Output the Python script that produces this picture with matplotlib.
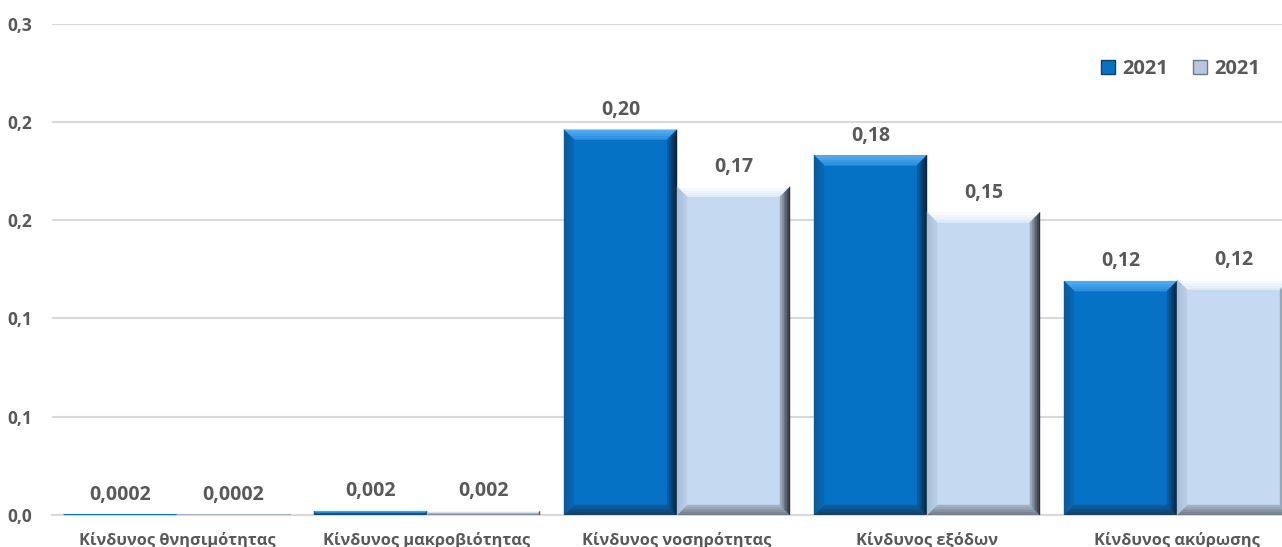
import matplotlib.pyplot as plt
import numpy as np
from matplotlib.patches import Polygon, Rectangle
from matplotlib.lines import Line2D
from matplotlib.colors import to_rgb

# data
categories = ["Κίνδυνος θνησιμότητας", "Κίνδυνος μακροβιότητας", "Κίνδυνος νοσηρότητας",
              "Κίνδυνος εξόδων", "Κίνδυνος ακύρωσης"]
series_names = ["2021", "2021"]
values_a = [0.0002, 0.002, 0.196, 0.183, 0.119]
values_b = [0.0002, 0.002, 0.167, 0.154, 0.1197]
labels_a = ["0,0002", "0,002", "0,20", "0,18", "0,12"]
labels_b = ["0,0002", "0,002", "0,17", "0,15", "0,12"]
yticks = [0, 0.05, 0.10, 0.15, 0.20, 0.25]
ytick_labels = ["0,0", "0,1", "0,1", "0,2", "0,2", "0,3"]

plt.rcParams['font.family'] = ['Open Sans', 'DejaVu Sans']
txt = '#595959'

W, H = 1282, 547
fig = plt.figure(figsize=(W / 100, H / 100), dpi=100)
# plot area runs off the right edge like in the original
ax = fig.add_axes([52 / W, 32 / H, 1250 / W, 491.4 / H])

x = np.arange(len(categories))
bw = 0.452
ax.set_xlim(-0.5, len(categories) - 0.5)
ax.set_ylim(0, 0.25)

dark = '#0572C6'
light = '#C5D9F0'
# face, top, bottom, left, right edge colours
bevel_cols = {
    'a': (dark, '#55B0F5', '#123F66', '#0A5A9A', '#08233D'),
    'b': (light, '#FFFFFF', '#6F7A88', '#A9BDD5', '#2B2F35'),
}

px_x = 1250 / len(categories)
px_y = 491.4 / 0.25
bev = 10
steps = 6


def mix(c1, c2, t):
    a, b = np.array(to_rgb(c1)), np.array(to_rgb(c2))
    return tuple(a + (b - a) * t)


def bevel_bar(xc, h, key):
    face, ctop, cbot, cleft, cright = bevel_cols[key]
    x0, x1 = xc - bw / 2, xc + bw / 2
    ax.add_patch(Rectangle((x0, 0), bw, h, facecolor=face, edgecolor='none', zorder=3))
    hp = h * px_y
    b = min(bev, hp / 2)
    bx, by = b / px_x, b / px_y
    for j in range(steps):
        o0, o1 = j / steps, (j + 1) / steps
        t = j / steps
        ax0, ax1 = x0 + bx * o0, x1 - bx * o0
        ay0, ay1 = by * o0, h - by * o0
        ix0, ix1 = x0 + bx * o1, x1 - bx * o1
        iy0, iy1 = by * o1, h - by * o1
        polys = [
            ([(ax0, ay1), (ax1, ay1), (ix1, iy1), (ix0, iy1)], mix(ctop, face, t * 0.6)),
            ([(ax0, ay0), (ax1, ay0), (ix1, iy0), (ix0, iy0)], mix(cbot, face, t * 0.7)),
            ([(ax0, ay0), (ax0, ay1), (ix0, iy1), (ix0, iy0)], mix(cleft, face, t * 0.7)),
            ([(ax1, ay0), (ax1, ay1), (ix1, iy1), (ix1, iy0)], mix(cright, face, t * 0.85)),
        ]
        for pts, c in polys:
            ax.add_patch(Polygon(pts, closed=True, facecolor=c, edgecolor=c, lw=0.3, zorder=3))
    if hp < 2:
        ax.plot([x0, x1], [0, 0], color=face if key == 'a' else '#9DB3CC', lw=1.2,
                zorder=3, solid_capstyle='butt')


for i in range(len(categories)):
    bevel_bar(x[i] - bw / 2, values_a[i], 'a')
    bevel_bar(x[i] + bw / 2, values_b[i], 'b')
    ax.annotate(labels_a[i], (x[i] - bw / 2, values_a[i]), xytext=(0, 7),
                textcoords='offset points', ha='center', va='bottom',
                fontsize=14, fontweight='bold', color=txt)
    ax.annotate(labels_b[i], (x[i] + bw / 2, values_b[i]), xytext=(0, 7),
                textcoords='offset points', ha='center', va='bottom',
                fontsize=14, fontweight='bold', color=txt)

ax.set_yticks(yticks)
ax.set_yticklabels(ytick_labels, fontweight='bold')
ax.set_xticks(x)
ax.set_xticklabels(categories, fontweight='bold')
ax.tick_params(axis='y', length=0, labelsize=12.5, colors=txt, pad=14)
ax.tick_params(axis='x', length=0, labelsize=11.8, colors=txt, pad=12)
ax.grid(axis='y', color='#D9D9D9', lw=1.5, zorder=0)
ax.set_axisbelow(True)
for s in ['top', 'right', 'left']:
    ax.spines[s].set_visible(False)
ax.spines['bottom'].set_color('#D9D9D9')
ax.spines['bottom'].set_linewidth(1.5)

handles = [Line2D([], [], marker='s', ls='', markersize=10, markerfacecolor=dark,
                  markeredgecolor='#123F66'),
           Line2D([], [], marker='s', ls='', markersize=10, markerfacecolor='#B8C8DC',
                  markeredgecolor='#6F7A88')]
leg = fig.legend(handles, series_names, loc='center right', bbox_to_anchor=(1278 / W, 1 - 69 / H),
                 ncol=2, frameon=False, handlelength=0.8, handletextpad=0.3,
                 columnspacing=1.2, prop={'size': 14.5, 'weight': 'bold'}, labelcolor=txt)

fig.savefig('out.png', dpi=100)
